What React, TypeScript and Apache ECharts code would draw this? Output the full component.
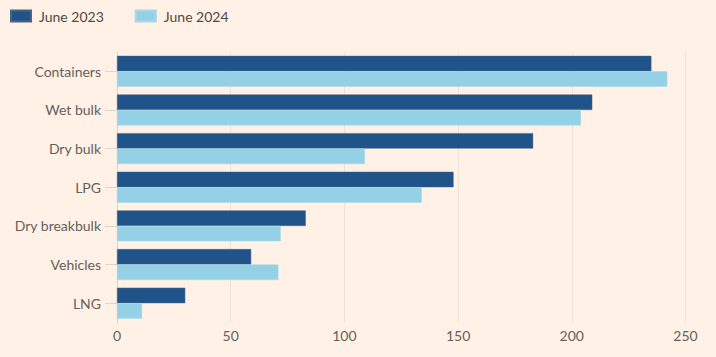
import React, { useEffect, useRef } from "react";
import * as echarts from "echarts";

const categories = ["Containers", "Wet bulk", "Dry bulk", "LPG", "Dry breakbulk", "Vehicles", "LNG"];
const june2023 = [235, 209, 183, 148, 83, 59, 30];
const june2024 = [242, 204, 109, 134, 72, 71, 11];
const xTicks = { min: 0, max: 250, interval: 50 };
const seriesNames = ["June 2023", "June 2024"];

const FONT = "Lato";

export default function App() {
  const ref = useRef<HTMLDivElement>(null);
  useEffect(() => {
    if (!ref.current) return;
    const chart = echarts.init(ref.current, null, { renderer: "svg" });
    chart.setOption({
      animation: false,
      backgroundColor: "#fff1e5",
      textStyle: { fontFamily: FONT },
      legend: {
        left: 5,
        top: 4,
        itemWidth: 20,
        itemHeight: 11,
        itemGap: 31,
        icon: "rect",
        textStyle: { color: "#4f4a46", fontSize: 14, fontFamily: FONT, padding: [0, 0, 0, 3] },
        data: seriesNames,
      },
      grid: { left: 117, right: 30.5, top: 52, bottom: 34.5, containLabel: false },
      xAxis: {
        type: "value",
        min: xTicks.min,
        max: xTicks.max,
        interval: xTicks.interval,
        axisLine: { show: false },
        axisTick: { show: false },
        axisLabel: { color: "#66605c", fontSize: 14, margin: 6, fontFamily: FONT },
        splitLine: { show: true, lineStyle: { color: "#ede2d8", width: 1 } },
      },
      yAxis: {
        type: "category",
        data: categories,
        inverse: true,
        axisLine: { show: true, lineStyle: { color: "#dcd3ca", width: 1 } },
        axisTick: { show: true, alignWithLabel: true, length: 12, lineStyle: { color: "#dcd3ca" } },
        axisLabel: { color: "#66605c", fontSize: 14, margin: 16, fontFamily: FONT },
      },
      series: [
        {
          name: seriesNames[0],
          type: "bar",
          data: june2023,
          barGap: "0%",
          barCategoryGap: "20%",
          itemStyle: { color: "#1f5389", borderColor: "#4a6582", borderWidth: 0.5 },
          z: 3,
        },
        {
          name: seriesNames[1],
          type: "bar",
          data: june2024,
          barGap: "0%",
          barCategoryGap: "20%",
          itemStyle: { color: "#94d1e7", borderColor: "#a9d6e6", borderWidth: 0.5 },
          z: 3,
        },
      ],
    });
    return () => chart.dispose();
  }, []);
  return <div ref={ref} style={{ width: 716, height: 357, position: "fixed", left: 0, top: 0 }} />;
}
